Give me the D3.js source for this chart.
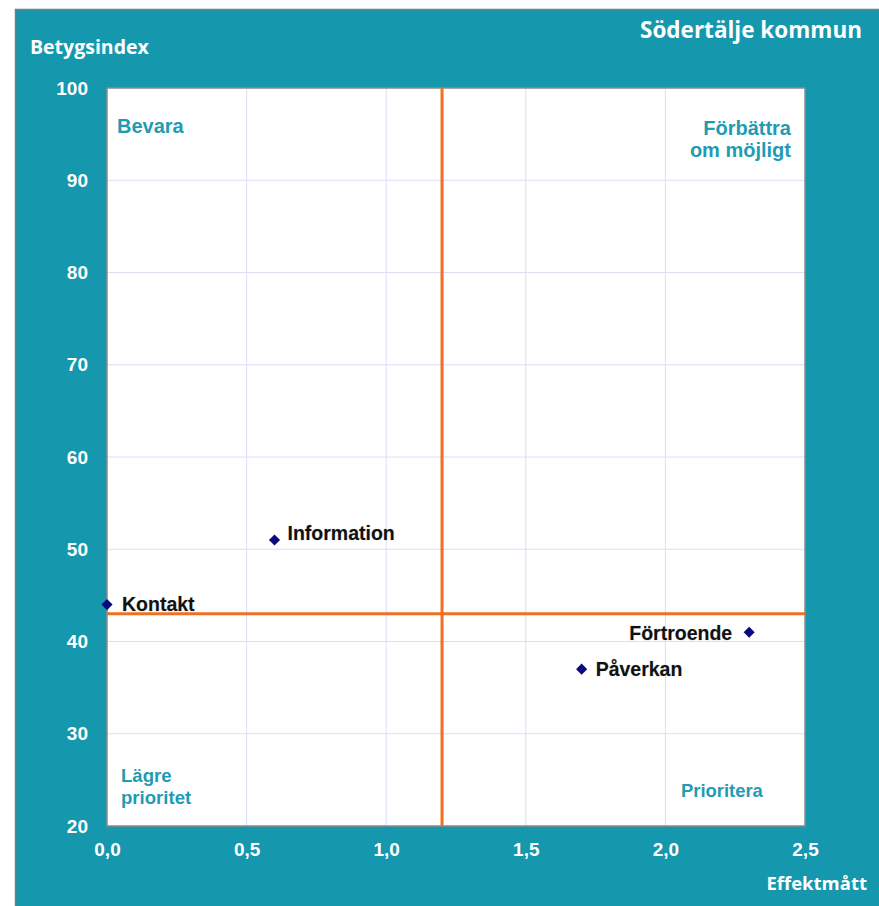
<!DOCTYPE html>
<html><head><meta charset="utf-8">
<script src="https://cdn.jsdelivr.net/npm/d3@7/dist/d3.min.js"></script>
<style>
html,body{margin:0;padding:0;background:#fff;}
svg{display:block;}
</style></head>
<body>
<script>
// Data
const names = ["Kontakt", "Information", "Förtroende", "Påverkan"];
const effekt = [0.0, 0.6, 2.3, 1.7];
const betyg = [44, 51, 41, 37];
const xTicks = [0, 0.5, 1.0, 1.5, 2.0, 2.5];
const yTicks = [20, 30, 40, 50, 60, 70, 80, 90, 100];
const xSplit = 1.2;
const ySplit = 43;
const quadrantLabels = [["Bevara"], ["Förbättra", "om möjligt"], ["Lägre", "prioritet"], ["Prioritera"]];
const title = "Södertälje kommun";
const yTitle = "Betygsindex";
const xTitle = "Effektmått";

const W = 879, H = 906;
const teal = "#1597ae";
const svg = d3.select("body").append("svg").attr("width", W).attr("height", H);

// outer frame
svg.append("rect").attr("x", 15.5).attr("y", 9.5).attr("width", W).attr("height", H)
  .attr("fill", teal).attr("stroke", "#6f7f85").attr("stroke-width", 1.5);

const L = 107, R = 805, T = 88, B = 826;
const x = d3.scaleLinear().domain([0, 2.5]).range([L, R]);
const y = d3.scaleLinear().domain([20, 100]).range([B, T]);

svg.append("rect").attr("x", L).attr("y", T).attr("width", R - L).attr("height", B - T)
  .attr("fill", "#fff");

// grid
const grid = svg.append("g");
grid.selectAll(".gx").data(xTicks.slice(1, -1)).join("line")
  .attr("x1", d => x(d)).attr("x2", d => x(d)).attr("y1", T).attr("y2", B)
  .attr("stroke", "#dcdcf8").attr("stroke-width", 1);
grid.selectAll(".gy").data(yTicks.slice(1, -1)).join("line")
  .attr("x1", L).attr("x2", R).attr("y1", d => y(d)).attr("y2", d => y(d))
  .attr("stroke", "#dcdcf8").attr("stroke-width", 1);

svg.append("rect").attr("x", L).attr("y", T).attr("width", R - L).attr("height", B - T)
  .attr("fill", "none").attr("stroke", "#8a8a8a").attr("stroke-width", 1.5);

// axes (labels only)
const tickFont = "Liberation Sans, Arial, sans-serif";
const yAxis = svg.append("g").attr("transform", `translate(${L},0)`)
  .call(d3.axisLeft(y).tickValues(yTicks).tickSize(0).tickPadding(19).tickFormat(d3.format("d")));
const xAxis = svg.append("g").attr("transform", `translate(0,${B})`)
  .call(d3.axisBottom(x).tickValues(xTicks).tickSize(0).tickPadding(17).tickFormat(d => d3.format(".1f")(d).replace(".", ",")));
[yAxis, xAxis].forEach(a => {
  a.select(".domain").remove();
  a.selectAll("text").attr("fill", "#fff").attr("font-family", tickFont)
    .attr("font-weight", "bold").attr("font-size", 19);
});

// split lines
svg.append("line").attr("x1", x(xSplit)).attr("x2", x(xSplit)).attr("y1", T).attr("y2", B)
  .attr("stroke", "#f07020").attr("stroke-width", 3);
svg.append("line").attr("x1", L).attr("x2", R).attr("y1", y(ySplit)).attr("y2", y(ySplit))
  .attr("stroke", "#f07020").attr("stroke-width", 3);

// quadrant labels
const qFont = "Liberation Sans, Arial, sans-serif";
const qPos = [
  {x: L + 10, y: 133, anchor: "start", size: 20, gap: 22},
  {x: 791, y: 135, anchor: "end", size: 20, gap: 22},
  {x: 121, y: 782, anchor: "start", size: 18.6, gap: 22},
  {x: 681, y: 797, anchor: "start", size: 18.4, gap: 22}
];
quadrantLabels.forEach((lines, i) => {
  const t = svg.append("text").attr("x", qPos[i].x).attr("y", qPos[i].y)
    .attr("text-anchor", qPos[i].anchor).attr("fill", "#1f9cb3")
    .attr("font-family", qFont).attr("font-weight", "bold").attr("font-size", qPos[i].size);
  lines.forEach((s, j) => t.append("tspan").attr("x", qPos[i].x).attr("dy", j ? qPos[i].gap : 0).text(s));
});

// points
const pts = names.map((n, i) => ({name: n, ex: effekt[i], by: betyg[i]}));
svg.selectAll(".pt").data(pts).join("path")
  .attr("d", d3.symbol().type(d3.symbolSquare).size(62))
  .attr("transform", d => `translate(${x(d.ex)},${y(d.by)}) rotate(45)`)
  .attr("fill", "#0a0a80");

const labelOff = {
  "Kontakt": {dx: 15, dy: 6, anchor: "start"},
  "Information": {dx: 13, dy: 0, anchor: "start"},
  "Förtroende": {dx: -17, dy: 8, anchor: "end"},
  "Påverkan": {dx: 14, dy: 7, anchor: "start"}
};
svg.selectAll(".lbl").data(pts).join("text")
  .attr("x", d => x(d.ex) + labelOff[d.name].dx)
  .attr("y", d => y(d.by) + labelOff[d.name].dy)
  .attr("text-anchor", d => labelOff[d.name].anchor)
  .attr("fill", "#111").attr("font-family", qFont).attr("font-weight", "bold").attr("font-size", 19.5)
  .style("paint-order", "stroke").attr("stroke", "#cfcfcf").attr("stroke-width", 0.6)
  .text(d => d.name);

// titles
const tFont = "Open Sans, Lato, sans-serif";
svg.append("text").attr("x", 30).attr("y", 54).attr("fill", "#fff")
  .attr("font-family", tFont).attr("font-weight", "bold").attr("font-size", 19.5).text(yTitle);
svg.append("text").attr("x", 862).attr("y", 38).attr("text-anchor", "end").attr("fill", "#fff")
  .attr("font-family", tFont).attr("font-weight", "bold").attr("font-size", 22.5).text(title);
svg.append("text").attr("x", 867).attr("y", 890).attr("text-anchor", "end").attr("fill", "#fff")
  .attr("font-family", tFont).attr("font-weight", "bold").attr("font-size", 18.5).text(xTitle);
</script>
</body></html>
